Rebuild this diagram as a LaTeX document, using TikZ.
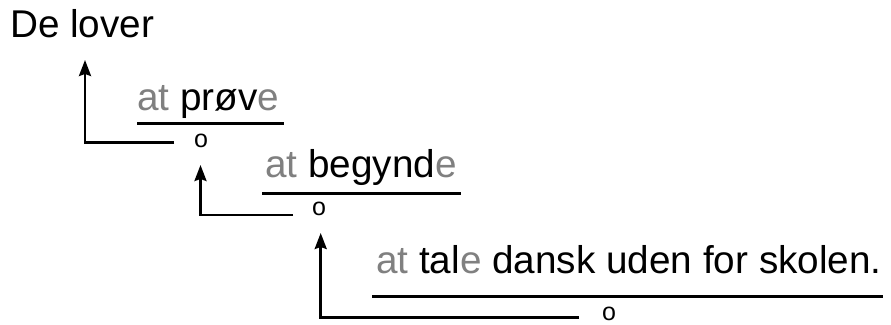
\documentclass[tikz,border=0pt]{standalone}
\usepackage{fontspec}
\setmainfont{Liberation Sans}
\usetikzlibrary{arrows.meta}
\definecolor{affix}{HTML}{808080}
\newcommand{\gr}[1]{\textcolor{affix}{#1}}
\tikzset{
    word/.style={anchor=base west, inner sep=0pt, font=\fontsize{38.7}{44}\selectfont},
    omark/.style={inner sep=0pt, font=\fontsize{25}{28}\selectfont},
    bar/.style={line width=2.5pt},
    link/.style={line width=2.5pt, -{Stealth[inset=2pt,length=16pt,width=12pt]}}
}
\begin{document}
\begin{tikzpicture}[x=1pt, y=-1pt]
            \useasboundingbox (0, 0) rectangle (891, 324);
            \node[word] (head) at (10, 37) {De lover};
            \node[word] (prove) at (137, 110) {\gr{at} prøv\gr{e}};
            \node[word] (begin) at (265, 177) {\gr{at} begynd\gr{e}};
            \node[word] (speak) at (376, 273) {\gr{at} tal\gr{e} dansk uden for skolen.};
            \node[omark] (o1) at (201, 140.7) {o};
            \node[omark] (o2) at (319, 209) {o};
            \node[omark] (o3) at (609, 313.5) {o};
            % underlines
            \draw[bar] (137, 123.5) to (284, 123.5);
            \draw[bar] (262, 193.3) to (461, 193.3);
            \draw[bar] (372, 296.7) to (883, 296.7);
            % links up to the governing verb
            \coordinate (h1) at (174, 142.5);
            \coordinate (t1) at (85, 60);
            \coordinate (h2) at (293, 215);
            \coordinate (t2) at (200.5, 165);
            \coordinate (h3) at (579, 317.7);
            \coordinate (t3) at (320.7, 233);
            \draw[link] (h1) -| (t1);
            \draw[link] (h2) -| (t2);
            \draw[link] (h3) -| (t3);
        \end{tikzpicture}
\end{document}
